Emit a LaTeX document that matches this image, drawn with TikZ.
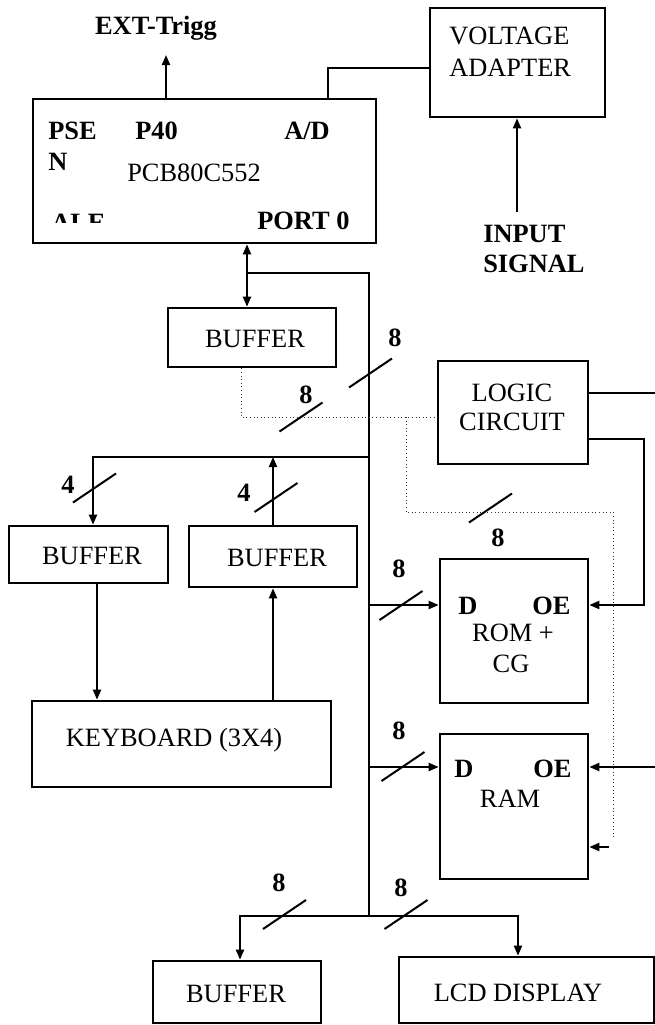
\documentclass[tikz,border=0pt]{standalone}
\usepackage{fontspec}
\setmainfont{Liberation Serif}
\usetikzlibrary{arrows.meta,fit}

\tikzset{
  box/.style={draw, line width=2pt, inner sep=0pt},
  wire/.style={line width=1.5pt},
  arr/.style={wire, -{Triangle[length=7.5pt,width=6pt]}},
  dots/.style={line width=0.7pt, dotted, black!80},
  slash/.style={line width=1.5pt},
  txt/.style={inner sep=0pt, font=\fontsize{19.8}{23}\selectfont},
  btxt/.style={txt, font=\fontsize{19.8}{23}\selectfont\bfseries},
}

\begin{document}
\begin{tikzpicture}[x=0.75pt,y=0.75pt,yscale=-1]
\useasboundingbox (0,0) rectangle (655,1025);

% Blocks
\node[box, fit={(33,99) (376,243)}] (mcu) {};
\node[box, fit={(430,8) (605,117)}] (va) {};
\node[box, fit={(168,308) (336,367)}] (buf1) {};
\node[box, fit={(438,361) (588,464)}] (logic) {};
\node[box, fit={(9,526) (168,583)}] (buf2) {};
\node[box, fit={(189,526) (357,587)}] (buf3) {};
\node[box, fit={(32,701) (331,787)}] (kbd) {};
\node[box, fit={(440,559) (588,703)}] (rom) {};
\node[box, fit={(440,734) (588,879)}] (ram) {};
\node[box, fit={(153,961) (321,1023)}] (buf4) {};
\node[box, fit={(399,957) (654,1023)}] (lcd) {};

% Text
\node[btxt, anchor=base] (ext) at (156,34) {EXT-Trigg};
\node[txt, anchor=base west] (vol) at (449,44) {VOLTAGE};
\node[txt, anchor=base west] (adp) at (449,76) {ADAPTER};
\node[btxt, anchor=base west] (inp) at (483,242) {INPUT};
\node[btxt, anchor=base west] (sgl) at (483,272) {SIGNAL};
\node[btxt, anchor=base west] (psen) at (48,139) {PSE};
\node[btxt, anchor=base west] (psen2) at (48,170) {N};
\node[btxt, anchor=base west] (p40) at (135,139) {P40};
\node[btxt, anchor=base west] (ad) at (284,139) {A/D};
\node[txt, anchor=base west] (chip) at (127,181) {PCB80C552};
\node[btxt, anchor=base west] (port) at (257,229) {PORT 0};
\begin{scope}
  \clip (40,200) rectangle (120,222);
  \node[btxt, anchor=base west] (ale) at (51,231) {ALE};
\end{scope}
\node[txt] (buf1t) at (255,339) {BUFFER};
\node[txt] (lgc1) at (512,393) {LOGIC};
\node[txt] (lgc2) at (512,422) {CIRCUIT};
\node[txt] (buf2t) at (92,556) {BUFFER};
\node[txt] (buf3t) at (277,558) {BUFFER};
\node[txt] (kbdt) at (174,740) {KEYBOARD (3X4)};
\node[btxt, anchor=base west] (romd) at (458,614) {D};
\node[btxt, anchor=base west] (romoe) at (532,614) {OE};
\node[txt, anchor=base] (romt) at (513,641) {ROM +};
\node[txt, anchor=base] (romcg) at (511,672) {CG};
\node[btxt, anchor=base west] (ramd) at (454,777) {D};
\node[btxt, anchor=base west] (ramoe) at (533,777) {OE};
\node[txt, anchor=base] (ramt) at (510,807) {RAM};
\node[txt] (buf4t) at (236,994) {BUFFER};
\node[txt] (lcdt) at (518,993) {LCD DISPLAY};

% Points
\coordinate (trig) at (166,55);
\coordinate (vain) at (328,68);
\coordinate (sig) at (517,212);
\coordinate (p0) at (247,273);
\coordinate (bustop) at (369,273);
\coordinate (busbot) at (369,916);
\coordinate (kb) at (93,457);
\coordinate (kbin) at (97,0);
\coordinate (romD) at (440,605);
\coordinate (ramD) at (440,767);
\coordinate (lc1) at (655,393);
\coordinate (lc2) at (644,439);
\coordinate (ramoe) at (655,767);
\coordinate (dl) at (406,417);
\coordinate (dm) at (613,512);
\coordinate (dr) at (613,839);
\coordinate (ramcs) at (609,847);
\coordinate (bl) at (240,916);
\coordinate (br) at (518,916);

% Connections
\draw[arr] (mcu.north -| trig) -- (trig);
\draw[wire] (mcu.north -| vain) |- (va.west |- vain);
\draw[arr] (sig) -- (va.south -| sig);
\draw[wire, {Triangle[length=7.5pt,width=6pt]}-{Triangle[length=7.5pt,width=6pt]}] (mcu.south -| p0) -- (buf1.north -| p0);
\draw[wire] (p0) -- (bustop) -- (busbot);
\draw[arr] (bustop |- kb) -- (kb) -- (buf2.north -| kb);
\draw[arr] (buf3.north) -- (buf3.north |- kb);
\draw[arr] (buf2.south -| kbin) -- (kbd.north -| kbin);
\draw[arr] (kbd.north -| buf3) -- (buf3.south);
\draw[arr] (bustop |- romD) -- (rom.west |- romD);
\draw[arr] (bustop |- ramD) -- (ram.west |- ramD);
\draw[wire] (logic.east |- lc1) -- (lc1);
\draw[arr] (logic.east |- lc2) -- (lc2) |- (rom.east |- romD);
\draw[arr] (ramoe) -- (ram.east |- ramoe);
\draw[dots] (buf1.south -| 241,0) |- (logic.west |- dl);
\draw[dots] (dl) |- (dm) -- (dr);
\draw[arr] (ramcs) -- (ram.east |- ramcs);
\draw[arr] (busbot) -- (bl) -- (buf4.north -| bl);
\draw[arr] (busbot) -- (br) -- (lcd.north -| br);

% Bus width marks
\foreach \x/\y in {370.5/373, 301/417, 490.5/508, 401/605.5, 403/766.5, 94.5/488, 276/497.5, 284.5/914.5, 406/914.5}
  \draw[slash] (\x-21.5,\y+14.5) -- (\x+21.5,\y-14.5);
\foreach \x/\y/\n [count=\i] in {395/338/8, 306/395/8, 498/538/8, 399/569/8, 399/731/8, 68/485/4, 244/493/4, 279/883/8, 401/888/8}
  \node[btxt] (w\i) at (\x,\y) {\n};
\end{tikzpicture}
\end{document}
